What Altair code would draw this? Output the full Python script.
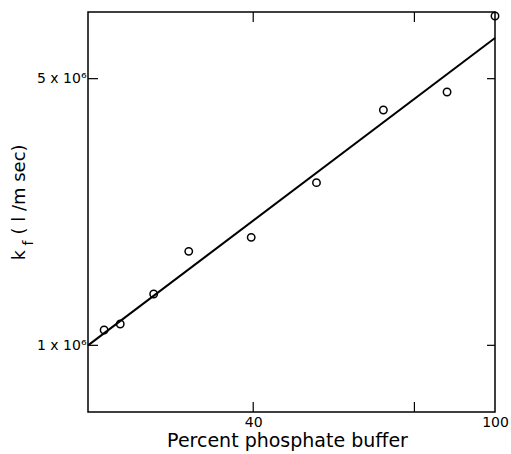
import altair as alt
import pandas as pd

# measured points
pct_buffer = [3, 7, 15.3, 24, 39.5, 55.7, 72.3, 88.1, 100]
k_f = [1.23e6, 1.32e6, 1.77e6, 2.41e6, 2.62e6, 3.44e6, 4.53e6, 4.80e6, 5.94e6]

# fitted line end points
fit_x = [-1, 100]
fit_y = [1.0e6, 5.61e6]

# ticks
x_ticks = [40, 80, 100]
x_tick_labels = ["40", "", "100"]
x_inner_ticks = [40, 80]
y_ticks = [1e6, 5e6]
y_tick_labels = ["1 x 10\u2076", "5 x 10\u2076"]

FONT = "DejaVu Sans"
W, H = 407, 400

pts = pd.DataFrame({"x": pct_buffer, "y": k_f})
fit = pd.DataFrame({"x": fit_x, "y": fit_y})
xt = pd.DataFrame({"x": x_inner_ticks})
yt = pd.DataFrame({"y": y_ticks})

xscale = alt.Scale(domain=[-1, 100], nice=False, zero=False)
yscale = alt.Scale(domain=[0, 6e6], nice=False, zero=False)

x_label_expr = " : ".join(
    [f"datum.value == {v} ? '{l}'" for v, l in zip(x_ticks, x_tick_labels)] + ["''"]
)
y_label_expr = " : ".join(
    [f"datum.value == {v} ? '{l}'" for v, l in zip(y_ticks, y_tick_labels)] + ["''"]
)

points = alt.Chart(pts).mark_point(
    shape="circle", filled=False, color="black", opacity=1, size=55,
    strokeWidth=1.5, clip=False
).encode(
    x=alt.X("x:Q", scale=xscale, axis=alt.Axis(
        values=x_ticks, labelExpr=x_label_expr, title="Percent phosphate buffer",
        grid=False, domain=False, ticks=False, labelPadding=3, labelFlush=False,
        labelFont=FONT, labelFontSize=14, labelColor="black",
        titleFont=FONT, titleFontSize=19, titleFontWeight="normal", titleColor="black",
        titleX=199, titleY=34, titleBaseline="alphabetic",
    )),
    y=alt.Y("y:Q", scale=yscale, axis=alt.Axis(
        values=y_ticks, labelExpr=y_label_expr, title=None,
        grid=False, domain=False, ticks=False, labelPadding=2, labelFlush=False,
        labelFont=FONT, labelFontSize=14, labelColor="black",
    )),
)

line = alt.Chart(fit).mark_line(color="black", strokeWidth=2).encode(
    x=alt.X("x:Q", scale=xscale), y=alt.Y("y:Q", scale=yscale)
)

tick_len = 10
xt_bottom = alt.Chart(xt).mark_rule(color="black", strokeWidth=1.2).encode(
    x=alt.X("x:Q", scale=xscale), y=alt.value(H), y2=alt.value(H - tick_len)
)
xt_top = alt.Chart(xt).mark_rule(color="black", strokeWidth=1.2).encode(
    x=alt.X("x:Q", scale=xscale), y=alt.value(0), y2=alt.value(tick_len)
)
yt_left = alt.Chart(yt).mark_rule(color="black", strokeWidth=1.2).encode(
    y=alt.Y("y:Q", scale=yscale), x=alt.value(0), x2=alt.value(tick_len)
)
yt_right = alt.Chart(yt).mark_rule(color="black", strokeWidth=1.2).encode(
    y=alt.Y("y:Q", scale=yscale), x=alt.value(W), x2=alt.value(W - 8)
)

t_k = alt.Chart(pd.DataFrame({"t": ["k"]})).mark_text(
    font=FONT, fontSize=17, angle=270, align="center", baseline="alphabetic", color="black"
).encode(text="t:N", x=alt.value(-63), y=alt.value(243))
t_f = alt.Chart(pd.DataFrame({"t": ["f"]})).mark_text(
    font=FONT, fontSize=14, angle=270, align="center", baseline="alphabetic", color="black"
).encode(text="t:N", x=alt.value(-55), y=alt.value(231))
t_u = alt.Chart(pd.DataFrame({"t": ["( l /m sec)"]})).mark_text(
    font=FONT, fontSize=18, angle=270, align="center", baseline="alphabetic", color="black"
).encode(text="t:N", x=alt.value(-63), y=alt.value(177.5))

chart = alt.layer(
    points, line, xt_bottom, xt_top, yt_left, yt_right, t_k, t_f, t_u
).properties(
    width=W, height=H,
    background="white",
    autosize=alt.AutoSizeParams(type="none"),
    padding={"left": 88, "top": 12, "right": 16, "bottom": 42},
).configure_view(
    stroke="black", strokeWidth=1.5
)

chart.save("out.html", embed_options={"renderer": "svg", "actions": False})
